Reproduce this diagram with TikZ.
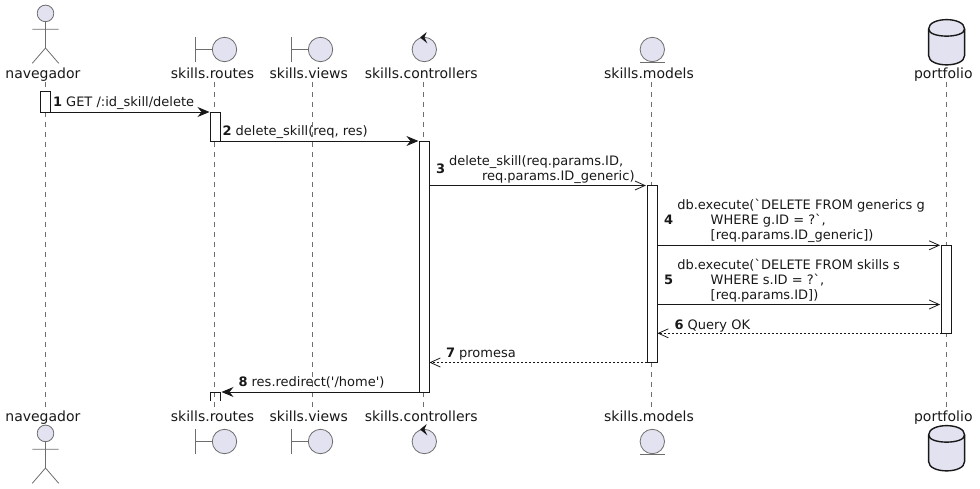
\documentclass[tikz,border=0pt]{standalone}
\usepackage{fontspec}
\newfontfamily\df{DejaVu Sans}
\usetikzlibrary{arrows.meta}
\definecolor{partfill}{HTML}{E2E2F0}
\definecolor{partline}{HTML}{6E6E6E}
\definecolor{ink}{HTML}{181818}
\tikzset{
  x=1pt,y=-1pt,
  every node/.style={inner sep=0pt,outer sep=0pt,text=ink},
  partname/.style={font=\df\fontsize{14}{16}\selectfont,anchor=base},
  msglabel/.style={font=\df\fontsize{13}{15}\selectfont,anchor=base west,align=left},
  msgnum/.style={font=\df\bfseries\fontsize{13}{15}\selectfont,anchor=base west},
  symb/.style={draw=partline,fill=partfill,line width=.8pt},
  symline/.style={draw=partline,line width=.8pt},
  dbsym/.style={draw=ink,fill=partfill,line width=1.4pt},
  lifeline/.style={draw=partline,line width=.7pt,dash pattern=on 5pt off 5pt},
  actbar/.style={draw=ink,fill=white,line width=.9pt,minimum width=10pt},
  msgline/.style={draw=ink,line width=.9pt},
  solidhead/.style={shorten >=1pt,-{Stealth[length=12pt,width=10pt,inset=4pt,fill=ink]}},
  openhead/.style={-{Straight Barb[length=10pt,width=9pt,line width=.8pt]}},
  gaphead/.style={openhead,shorten >=1.5pt},
  reply/.style={dash pattern=on 2pt off 2pt},
}
\newcommand{\actorfig}[1]{\begin{scope}[yshift=-#1pt]
  \draw[symline] (45.5,21.7) -- (45.5,48) (32.3,29.3) -- (58.7,29.3)
    (32.3,63.3) -- (45.5,48) -- (58.7,63.3);
  \draw[symb] (45.5,13.4) circle (8.3);
\end{scope}}
\newcommand{\boundaryfig}[2]{\begin{scope}[yshift=-#2pt]
  \draw[symline] (#1-29.2,37.3) -- (#1-29.2,62) (#1-29.2,49.5) -- (#1-12,49.5);
  \draw[symb] (#1,49.5) circle (12.2);
\end{scope}}
\newcommand{\controlfig}[1]{\begin{scope}[yshift=-#1pt]
  \draw[symb] (424.3,49.5) circle (12.2);
  \fill[ink] (420,37.5) -- (426.7,32) -- (424.4,37.5) -- (427.3,43.3) -- cycle;
\end{scope}}
\newcommand{\entityfig}[1]{\begin{scope}[yshift=-#1pt]
  \draw[symb] (652.3,49.5) circle (12.2);
  \draw[symline] (640,62.7) -- (664.7,62.7);
\end{scope}}
\newcommand{\dbfig}[1]{\begin{scope}[yshift=-#1pt]
  \draw[dbsym] (928.6,29) .. controls (928.6,16.5) and (964.6,16.5) .. (964.6,29)
    -- (964.6,55.5) .. controls (964.6,68) and (928.6,68) .. (928.6,55.5) -- cycle;
  \draw[dbsym,fill=none] (928.6,29) .. controls (928.6,38.5) and (964.6,38.5) .. (964.6,29);
\end{scope}}
\begin{document}
\begin{tikzpicture}
\useasboundingbox (0,0) rectangle (980,489);
% participant names
\node[partname] (navT) at (42.9,78.3) {navegador};
\node[partname] (rouT) at (212.5,78.3) {skills.routes};
\node[partname] (vieT) at (308.8,78.3) {skills.views};
\node[partname] (conT) at (421.2,78.3) {skills.controllers};
\node[partname] (modT) at (649,78.3) {skills.models};
\node[partname] (porT) at (943.3,78.3) {portfolio};
\node[partname] (navB) at (42.9,421.7) {navegador};
\node[partname] (rouB) at (212.5,421.7) {skills.routes};
\node[partname] (vieB) at (308.8,421.7) {skills.views};
\node[partname] (conB) at (421.2,421.7) {skills.controllers};
\node[partname] (modB) at (649,421.7) {skills.models};
\node[partname] (porB) at (943.3,421.7) {portfolio};
% lifeline ends
\foreach \n/\x in {nav/45.4,rou/214.4,vie/312.4,con/423.4,mod/651.6,por/946.4}{
  \coordinate (\n Top) at (\x,82);
  \coordinate (\n Bot) at (\x,407);
  \draw[lifeline] (\n Top) -- (\n Bot);
}
% symbols
\actorfig{0}\actorfig{420}
\boundaryfig{224.5}{0}\boundaryfig{224.5}{392}
\boundaryfig{320.5}{0}\boundaryfig{320.5}{392}
\controlfig{0}\controlfig{392}
\entityfig{0}\entityfig{392}
\dbfig{0}\dbfig{406}
% activation bars
\node[actbar,minimum height=21pt] (a1) at (45.5,101.5) {};
\node[actbar,minimum height=29pt] (a2) at (215.5,126.5) {};
\node[actbar,minimum height=251pt] (a3) at (424.4,266.5) {};
\node[actbar,minimum height=177pt] (a4) at (652.4,274) {};
\node[actbar,minimum height=88pt] (a5) at (946.6,289.3) {};
\node[minimum width=10pt,minimum height=9pt] (a6) at (215.5,396.5) {};
\draw[draw=ink,line width=.9pt] (a6.south west) -- (a6.north west) -- (a6.north east) -- (a6.south east);
% messages
\draw[msgline,solidhead] (a1.south east) -- (a2.north west);
\draw[msgline,solidhead] (a2.south east) -- (a3.north west);
\draw[msgline,gaphead] (a3.east |- a4.north) -- (a4.north west);
\draw[msgline,gaphead] (a4.east |- a5.north) -- (a5.north west);
\coordinate (m5) at (a4.east |- 0,304.5);
\draw[msgline,gaphead] (m5) -- (a5.west |- m5);
\draw[msgline,reply,openhead] (a5.south west) -- (a4.east |- a5.south);
\draw[msgline,reply,openhead] (a4.south west) -- (a3.east |- a4.south);
\draw[msgline,solidhead] (a3.south west) -- (a6.north east);
% labels
\node[msglabel] (t1) at (53,107) {\textbf{1} GET /:id\_skill/delete};
\node[msglabel] (t2) at (222.5,136) {\textbf{2} delete\_skill(req, res)};
\node[msgnum] (n3) at (436,173.5) {3};
\node[msglabel] (t3) at (449,181) {delete\_skill(req.params.ID,\\\hspace*{33pt}req.params.ID\_generic)};
\node[msgnum] (n4) at (664,225) {4};
\node[msglabel] (t4) at (677.3,240) {db.execute(`DELETE FROM generics g\\\hspace*{33.4pt}WHERE g.ID = ?`,\\\hspace*{33.4pt}[req.params.ID\_generic])};
\node[msgnum] (n5) at (664,284.5) {5};
\node[msglabel] (t5) at (677.3,299.5) {db.execute(`DELETE FROM skills s\\\hspace*{33.4pt}WHERE s.ID = ?`,\\\hspace*{33.4pt}[req.params.ID])};
\node[msglabel] (t6) at (674.5,329) {\textbf{6} Query OK};
\node[msglabel] (t7) at (446,357.7) {\textbf{7} promesa};
\node[msglabel] (t8) at (238.5,386) {\textbf{8} res.redirect('/home')};
\end{tikzpicture}
\end{document}
